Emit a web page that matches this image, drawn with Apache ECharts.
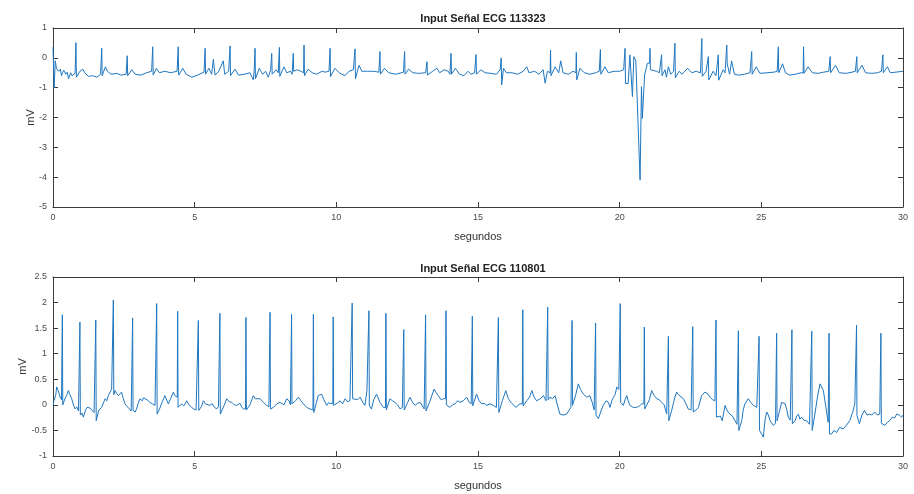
<!DOCTYPE html>
<html><head><meta charset="utf-8">
<script src="https://cdn.jsdelivr.net/npm/echarts@6/dist/echarts.min.js"></script>
<style>html,body{margin:0;padding:0;background:#fff}#c{width:914px;height:494px}</style>
</head><body><div id="c"></div>
<script>
// ---- Data ----
const title1 = "Input Señal ECG 113323";
const title2 = "Input Señal ECG 110801";
const xName = "segundos";
const yName = "mV";
const xTicks = [0, 5, 10, 15, 20, 25, 30];
const yTicksTop = [-5, -4, -3, -2, -1, 0, 1];
const yTicksBot = [-1, -0.5, 0, 0.5, 1, 1.5, 2, 2.5];

// Top record: R peaks [t, mV]
const topBeats = [[0.81,0.51],[1.72,0.32],[2.62,0.07],[3.52,0.37],[4.42,0.37],[5.37,0.32],[6.25,0.40],[7.13,0.32],[7.72,0.15],[7.99,0.35],[8.48,0.15],[8.86,0.43],[9.78,0.32],[10.66,0.30],[11.54,0.21],[12.41,0.21],[13.20,-0.13],[14.05,0.15],[14.93,0.11],[15.82,0.0],[17.56,0.26],[18.47,0.18],[19.32,0.28],[20.19,0.32],[21.07,0.32],[21.48,0.10],[21.95,0.49],[22.90,0.65],[23.13,0.04],[23.48,0.10],[23.78,0.43],[24.66,0.21],[25.60,0.37],[26.49,0.37],[27.43,0.04],[28.37,0.04],[29.29,0.10]];
// Top record: remaining trace points [t, mV]
const topWave = [[0.00,0.36],[0.04,-1.0],[0.08,-0.1],[0.12,-0.35],[0.2,-0.45],[0.26,-0.38],[0.3,-0.6],[0.34,-0.5],[0.38,-0.42],[0.45,-0.55],[0.5,-0.48],[0.55,-0.7],[0.62,-0.5],[0.67,-0.6],[0.72,-0.55],[0.78,-0.52],[0.86,-0.65],[0.95,-0.45],[1.05,-0.38],[1.12,-0.5],[1.25,-0.62],[1.4,-0.6],[1.55,-0.65],[1.68,-0.55],[1.76,-0.6],[1.85,-0.3],[1.92,-0.45],[2.05,-0.55],[2.25,-0.52],[2.4,-0.58],[2.58,-0.55],[2.66,-0.6],[2.78,-0.4],[2.9,-0.55],[3.1,-0.58],[3.3,-0.5],[3.48,-0.45],[3.56,-0.58],[3.65,-0.35],[3.75,-0.5],[3.95,-0.45],[4.15,-0.5],[4.38,-0.45],[4.46,-0.58],[4.58,-0.35],[4.7,-0.55],[4.9,-0.65],[5.1,-0.58],[5.33,-0.48],[5.41,-0.55],[5.5,-0.35],[5.6,-0.55],[5.66,-0.05],[5.72,-0.58],[5.85,-0.45],[6.01,-0.1],[6.06,-0.55],[6.2,-0.45],[6.3,-0.6],[6.42,-0.38],[6.55,-0.58],[6.75,-0.55],[6.95,-0.5],[7.07,-0.74],[7.1,-0.45],[7.18,-0.7],[7.28,-0.35],[7.4,-0.55],[7.5,-0.45],[7.6,-0.65],[7.68,-0.4],[7.78,-0.55],[7.88,-0.4],[7.95,-0.5],[8.05,-0.62],[8.15,-0.3],[8.25,-0.5],[8.38,-0.45],[8.44,-0.55],[8.53,-0.45],[8.62,-0.4],[8.75,-0.45],[8.82,-0.5],[8.92,-0.6],[9.0,-0.38],[9.15,-0.5],[9.3,-0.55],[9.5,-0.45],[9.6,-0.48],[9.74,-0.45],[9.84,-0.63],[9.95,-0.35],[10.1,-0.5],[10.3,-0.6],[10.45,-0.45],[10.6,-0.4],[10.72,-0.7],[10.8,-0.25],[10.9,-0.45],[11.1,-0.45],[11.3,-0.45],[11.5,-0.48],[11.6,-0.55],[11.7,-0.35],[11.85,-0.5],[12.1,-0.55],[12.37,-0.48],[12.46,-0.55],[12.55,-0.38],[12.7,-0.5],[12.9,-0.52],[13.15,-0.5],[13.25,-0.58],[13.4,-0.45],[13.55,-0.35],[13.65,-0.5],[13.8,-0.4],[13.95,-0.45],[14.01,-0.55],[14.1,-0.55],[14.2,-0.35],[14.35,-0.55],[14.5,-0.6],[14.65,-0.45],[14.75,-0.55],[14.88,-0.5],[14.98,-0.55],[15.1,-0.4],[15.25,-0.5],[15.45,-0.52],[15.65,-0.55],[15.78,-0.4],[15.85,-0.91],[15.9,-0.35],[16.0,-0.5],[16.2,-0.5],[16.4,-0.55],[16.6,-0.45],[16.72,-0.3],[16.8,-0.5],[17.0,-0.45],[17.15,-0.55],[17.3,-0.4],[17.37,-0.85],[17.45,-0.45],[17.52,-0.5],[17.62,-0.6],[17.72,-0.3],[17.85,-0.5],[17.92,-0.1],[18.0,-0.5],[18.2,-0.55],[18.35,-0.45],[18.42,-0.5],[18.52,-0.74],[18.6,-0.35],[18.75,-0.5],[18.95,-0.55],[19.15,-0.5],[19.28,-0.45],[19.38,-0.55],[19.48,-0.3],[19.6,-0.5],[19.8,-0.45],[20.0,-0.45],[20.14,-0.4],[20.3,-0.86],[20.36,0.1],[20.45,-1.3],[20.5,0.04],[20.57,-0.1],[20.72,-4.1],[20.77,-0.97],[20.8,-2.03],[20.88,-0.58],[20.98,-0.18],[21.15,-0.4],[21.3,-0.45],[21.4,-0.5],[21.52,-0.6],[21.6,-0.4],[21.65,-0.65],[21.72,-0.3],[21.8,-0.55],[21.9,-0.45],[22.0,-0.67],[22.1,-0.45],[22.2,-0.55],[22.4,-0.35],[22.55,-0.5],[22.7,-0.45],[22.85,-0.5],[22.95,-0.62],[23.05,-0.45],[23.2,-0.74],[23.3,-0.45],[23.4,-0.6],[23.55,-0.75],[23.65,-0.4],[23.72,-0.5],[23.83,-0.2],[23.88,-0.55],[23.95,-0.1],[24.05,-0.55],[24.2,-0.58],[24.4,-0.55],[24.6,-0.5],[24.72,-0.55],[24.82,-0.3],[24.95,-0.52],[25.2,-0.5],[25.45,-0.48],[25.56,-0.45],[25.66,-0.5],[25.75,-0.2],[25.85,-0.5],[26.0,-0.58],[26.2,-0.55],[26.4,-0.5],[26.55,-0.52],[26.65,-0.3],[26.8,-0.5],[27.0,-0.52],[27.2,-0.48],[27.38,-0.45],[27.5,-0.5],[27.62,-0.25],[27.75,-0.5],[28.0,-0.52],[28.2,-0.48],[28.32,-0.45],[28.42,-0.5],[28.55,-0.25],[28.68,-0.5],[28.9,-0.52],[29.1,-0.5],[29.24,-0.45],[29.35,-0.5],[29.45,-0.3],[29.55,-0.5],[29.75,-0.48],[30.0,-0.45]];

// Bottom record: R peaks [t, mV]
const botBeats = [[0.33,1.76],[0.95,1.62],[1.51,1.66],[2.13,2.05],[2.81,1.70],[3.66,1.98],[4.40,1.83],[5.13,1.65],[5.89,1.79],[6.81,1.71],[7.66,1.81],[8.42,1.77],[9.19,1.77],[9.89,1.72],[10.56,1.99],[11.15,1.84],[11.75,1.79],[12.38,1.47],[13.15,1.76],[13.87,1.84],[14.80,1.73],[15.72,1.71],[16.58,1.86],[17.46,1.91],[18.32,1.65],[19.15,1.60],[20.02,1.98],[20.87,1.52],[21.72,1.34],[22.58,1.53],[23.40,1.66],[24.19,1.45],[24.92,1.34],[25.54,1.40],[26.08,1.47],[26.78,1.44],[27.39,1.40],[28.36,1.56],[29.22,1.40]];
// Bottom record: remaining trace points [t, mV]
const botWave = [[0.01,-0.01],[0.03,0.08],[0.06,0.05],[0.1,0.2],[0.13,0.35],[0.17,0.3],[0.2,0.25],[0.25,0.15],[0.3,0.1],[0.36,0.0],[0.42,0.12],[0.48,0.18],[0.54,0.28],[0.6,0.2],[0.66,0.12],[0.72,0.0],[0.78,-0.08],[0.84,-0.04],[0.9,-0.12],[0.98,-0.2],[1.02,-0.16],[1.07,-0.24],[1.15,-0.1],[1.2,-0.05],[1.25,-0.03],[1.3,-0.06],[1.36,-0.08],[1.45,-0.15],[1.55,-0.31],[1.62,-0.1],[1.67,-0.13],[1.72,-0.05],[1.78,0.04],[1.84,0.12],[1.9,0.08],[1.95,0.18],[2.07,0.31],[2.16,0.2],[2.19,0.28],[2.25,0.22],[2.31,0.18],[2.42,0.25],[2.48,0.12],[2.54,0.02],[2.6,-0.02],[2.66,-0.05],[2.76,-0.12],[2.84,-0.11],[2.9,-0.14],[2.95,-0.08],[3.0,0.02],[3.07,0.12],[3.15,0.08],[3.2,0.14],[3.25,0.12],[3.34,0.09],[3.42,0.05],[3.5,0.02],[3.6,-0.01],[3.7,-0.18],[3.76,-0.08],[3.85,0.05],[3.95,0.18],[4.07,0.02],[4.15,0.12],[4.25,0.25],[4.3,0.18],[4.36,0.15],[4.45,-0.05],[4.54,0.02],[4.62,-0.02],[4.72,0.08],[4.8,0.0],[4.89,-0.05],[4.97,-0.08],[5.05,-0.1],[5.18,-0.11],[5.24,-0.03],[5.31,0.08],[5.38,0.02],[5.45,0.0],[5.54,-0.01],[5.62,0.02],[5.7,-0.05],[5.78,-0.08],[5.84,-0.03],[5.95,-0.18],[6.05,0.0],[6.13,0.12],[6.22,0.06],[6.31,0.05],[6.4,0.0],[6.48,-0.01],[6.6,0.03],[6.66,-0.04],[6.72,-0.08],[6.86,-0.1],[6.95,0.0],[7.07,0.18],[7.14,0.12],[7.2,0.1],[7.31,0.12],[7.42,0.05],[7.54,-0.01],[7.62,-0.04],[7.72,-0.08],[7.78,-0.05],[7.9,0.02],[8.01,0.05],[8.15,0.0],[8.25,0.12],[8.33,0.08],[8.38,0.0],[8.48,0.02],[8.56,0.08],[8.66,0.15],[8.75,0.08],[8.84,0.02],[8.95,-0.05],[9.07,-0.08],[9.14,-0.1],[9.24,-0.15],[9.3,0.05],[9.36,0.18],[9.48,0.21],[9.56,0.1],[9.66,-0.01],[9.72,0.04],[9.78,0.02],[9.95,-0.01],[10.05,0.04],[10.13,0.08],[10.22,0.02],[10.31,0.12],[10.4,0.06],[10.48,0.08],[10.62,0.12],[10.75,0.1],[10.84,0.15],[10.93,0.05],[11.01,-0.01],[11.08,0.28],[11.2,-0.02],[11.24,-0.08],[11.32,0.1],[11.42,0.21],[11.54,0.05],[11.66,-0.05],[11.8,-0.1],[11.89,0.12],[11.98,0.08],[12.07,0.05],[12.16,0.0],[12.25,-0.08],[12.33,-0.05],[12.43,-0.1],[12.52,0.05],[12.6,0.15],[12.7,0.04],[12.78,-0.01],[12.87,0.03],[12.96,0.05],[13.1,-0.08],[13.2,-0.12],[13.31,0.08],[13.45,0.31],[13.52,0.24],[13.6,0.18],[13.7,0.1],[13.78,0.12],[13.92,0.0],[14.01,-0.05],[14.1,0.0],[14.19,0.02],[14.28,0.08],[14.36,0.05],[14.48,0.08],[14.6,0.15],[14.68,0.06],[14.76,0.02],[14.85,-0.02],[14.95,0.21],[15.04,0.08],[15.13,0.02],[15.22,0.03],[15.31,-0.01],[15.42,0.02],[15.54,-0.01],[15.65,-0.05],[15.76,-0.15],[15.86,0.08],[15.98,0.28],[16.07,0.12],[16.16,0.05],[16.25,0.0],[16.33,-0.05],[16.48,0.02],[16.62,-0.02],[16.72,0.08],[16.82,0.15],[16.9,0.28],[16.98,0.15],[17.07,0.08],[17.2,0.12],[17.31,0.18],[17.4,0.08],[17.5,0.1],[17.54,0.15],[17.63,0.12],[17.72,0.18],[17.8,0.0],[17.89,-0.18],[18.0,-0.2],[18.13,-0.18],[18.22,-0.1],[18.28,-0.05],[18.36,-0.01],[18.45,0.2],[18.54,0.41],[18.62,0.3],[18.72,0.21],[18.84,0.15],[18.95,0.18],[19.03,0.05],[19.1,-0.1],[19.2,-0.2],[19.25,-0.27],[19.34,-0.12],[19.42,-0.01],[19.52,0.08],[19.6,0.05],[19.66,-0.05],[19.72,0.08],[19.78,0.15],[19.84,0.2],[19.9,0.35],[19.97,0.3],[20.08,0.05],[20.13,-0.01],[20.19,0.1],[20.25,0.18],[20.3,0.08],[20.36,-0.01],[20.48,-0.05],[20.6,-0.05],[20.7,-0.02],[20.78,0.02],[20.92,-0.08],[20.95,-0.08],[21.05,0.1],[21.13,0.28],[21.22,0.18],[21.31,0.12],[21.4,0.1],[21.48,0.05],[21.57,0.0],[21.66,-0.18],[21.78,-0.31],[21.84,-0.1],[21.89,0.02],[21.95,0.15],[22.01,0.25],[22.07,0.2],[22.13,0.18],[22.25,0.12],[22.34,0.02],[22.42,-0.08],[22.52,-0.1],[22.62,-0.14],[22.7,-0.1],[22.78,-0.05],[22.89,0.18],[23.01,0.25],[23.1,0.22],[23.19,0.15],[23.28,0.1],[23.36,0.08],[23.45,-0.24],[23.55,-0.22],[23.62,-0.31],[23.72,-0.01],[23.8,-0.12],[23.89,-0.18],[23.98,-0.22],[24.07,-0.31],[24.14,-0.38],[24.22,-0.5],[24.31,-0.31],[24.36,-0.1],[24.42,0.02],[24.54,0.12],[24.62,0.05],[24.72,-0.01],[24.84,-0.05],[24.96,-0.5],[25.07,-0.63],[25.13,-0.3],[25.19,-0.14],[25.25,-0.2],[25.31,-0.31],[25.36,-0.35],[25.42,-0.4],[25.5,-0.36],[25.58,-0.31],[25.65,-0.1],[25.72,0.05],[25.78,0.04],[25.84,0.02],[25.9,-0.1],[25.95,-0.24],[26.02,-0.3],[26.1,-0.37],[26.19,-0.31],[26.25,-0.22],[26.31,-0.18],[26.36,-0.28],[26.42,-0.24],[26.5,-0.3],[26.6,-0.31],[26.7,-0.38],[26.8,-0.5],[26.89,-0.18],[26.98,0.15],[27.07,0.41],[27.13,0.38],[27.19,0.28],[27.28,-0.05],[27.36,-0.34],[27.48,-0.57],[27.56,-0.5],[27.66,-0.54],[27.76,-0.44],[27.89,-0.47],[28.0,-0.4],[28.12,-0.31],[28.22,-0.15],[28.3,0.02],[28.38,-0.2],[28.46,-0.37],[28.55,-0.2],[28.64,-0.11],[28.73,-0.2],[28.82,-0.18],[28.9,-0.2],[29.0,-0.14],[29.1,-0.2],[29.18,-0.18],[29.3,-0.36],[29.36,-0.4],[29.45,-0.34],[29.53,-0.31],[29.62,-0.24],[29.7,-0.26],[29.78,-0.18],[29.87,-0.2],[29.95,-0.24],[30.0,-0.2]];

// ---- Build traces ----
// Each R peak is drawn as a narrow spike: the level of the nearest wave
// sample on each side is held up to just before / after the peak time.
const SPIKE_HALF = 0.015; // seconds (drawing width of the QRS spike)
function trace(beats, wave) {
  const w = wave.slice().sort(function (a, b) { return a[0] - b[0]; });
  const extra = [];
  beats.forEach(function (b) {
    let prev = null, next = null;
    for (let i = 0; i < w.length; i++) {
      if (w[i][0] < b[0]) prev = w[i];
      else { next = w[i]; break; }
    }
    if (prev && b[0] - prev[0] > SPIKE_HALF) extra.push([b[0] - SPIKE_HALF, prev[1]]);
    extra.push([b[0], b[1]]);
    if (next && next[0] - b[0] > SPIKE_HALF) extra.push([b[0] + SPIKE_HALF, next[1]]);
  });
  return w.concat(extra).sort(function (a, b) { return a[0] - b[0]; });
}
const topTrace = trace(topBeats, topWave);
const botTrace = trace(botBeats, botWave);

const chart = echarts.init(document.getElementById('c'), null, { renderer: 'canvas' });
const axisColor = '#3a3a3a';
const labelColor = '#4a4a4a';
const font = 'Liberation Sans, Arial, Helvetica, sans-serif';
const lineColor = '#1f77c0';

function axisBase(extra) {
  return Object.assign({
    axisLine: { show: true, onZero: false, lineStyle: { color: axisColor, width: 1 } },
    axisTick: { show: true, inside: true, length: 5, lineStyle: { color: axisColor } },
    splitLine: { show: false }
  }, extra);
}
function xAxes(gi) {
  const mn = xTicks[0], mx = xTicks[xTicks.length - 1], iv = xTicks[1] - xTicks[0];
  return [
    axisBase({ type: 'value', gridIndex: gi, position: 'bottom', min: mn, max: mx, interval: iv,
      name: xName, nameLocation: 'middle', nameGap: 24,
      nameTextStyle: { color: '#333', fontSize: 11, fontFamily: font },
      axisLabel: { color: labelColor, fontSize: 9, fontFamily: font, margin: 6 } }),
    axisBase({ type: 'value', gridIndex: gi, position: 'top', min: mn, max: mx, interval: iv,
      axisLabel: { show: false } })
  ];
}
function yAxes(gi, ticks, gap) {
  const mn = ticks[0], mx = ticks[ticks.length - 1], iv = ticks[1] - ticks[0];
  return [
    axisBase({ type: 'value', gridIndex: gi, position: 'left', min: mn, max: mx, interval: iv,
      name: yName, nameLocation: 'middle', nameGap: gap, nameRotate: 90, nameMoveOverlap: false,
      nameTextStyle: { color: '#333', fontSize: 11, fontFamily: font },
      axisLabel: { color: labelColor, fontSize: 9, fontFamily: font, margin: 6 } }),
    axisBase({ type: 'value', gridIndex: gi, position: 'right', min: mn, max: mx, interval: iv,
      axisLabel: { show: false } })
  ];
}

chart.setOption({
  animation: false,
  backgroundColor: '#ffffff',
  title: [
    { text: title1, left: 478, top: 8, textAlign: 'center',
      textStyle: { fontSize: 11, fontWeight: 'bold', color: '#222', fontFamily: font } },
    { text: title2, left: 478, top: 258, textAlign: 'center',
      textStyle: { fontSize: 11, fontWeight: 'bold', color: '#222', fontFamily: font } }
  ],
  grid: [
    { left: 53, top: 28, width: 850, height: 179, containLabel: false },
    { left: 53, top: 277, width: 850, height: 179, containLabel: false }
  ],
  xAxis: xAxes(0).concat(xAxes(1)),
  yAxis: yAxes(0, yTicksTop, 17).concat(yAxes(1, yTicksBot, 25)),
  series: [
    { type: 'line', xAxisIndex: 0, yAxisIndex: 0, data: topTrace, showSymbol: false,
      lineStyle: { color: lineColor, width: 1 }, sampling: null },
    { type: 'line', xAxisIndex: 2, yAxisIndex: 2, data: botTrace, showSymbol: false,
      lineStyle: { color: lineColor, width: 1 }, sampling: null }
  ]
});
</script>
</body></html>
